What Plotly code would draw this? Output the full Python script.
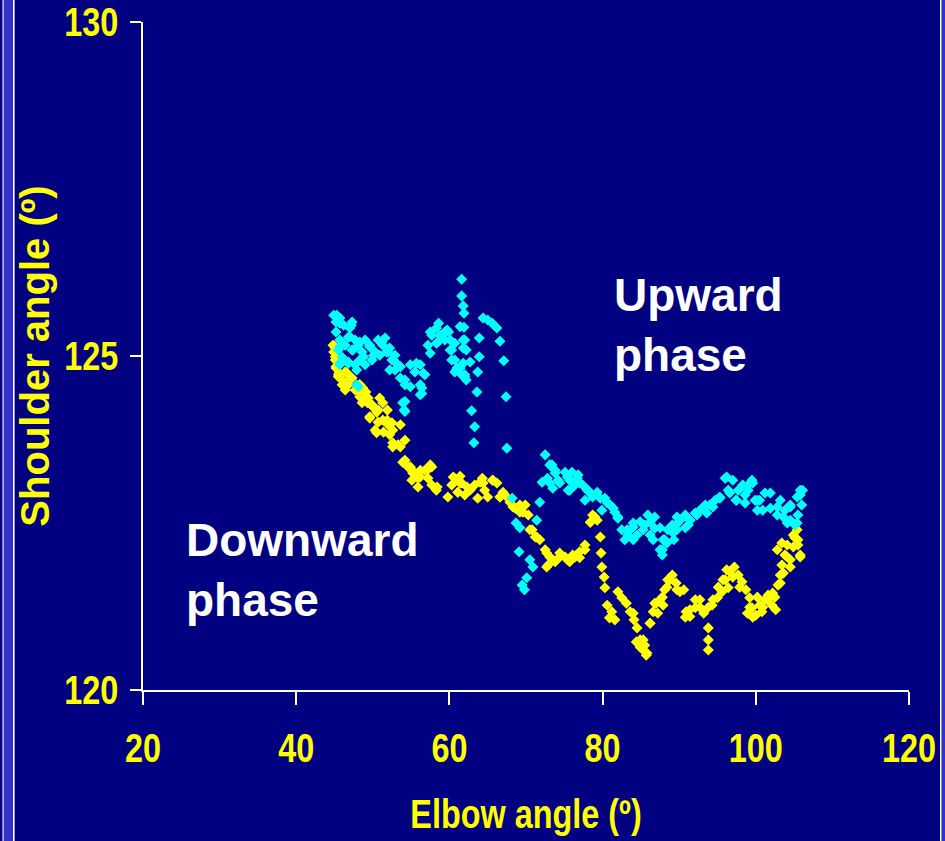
import plotly.graph_objects as go

# Downward phase (yellow): elbow angle (deg), shoulder angle (deg)
down_elbow = [44.8, 44.9, 45.1, 45.2, 45.5, 46.0, 46.4, 46.8, 47.3, 47.7, 48.3, 48.6, 49.1,
              45.0, 45.3, 45.6, 45.9, 46.3, 46.6, 47.0, 48.0, 48.5, 49.0, 49.3,
              49.9, 50.7, 51.3, 52.0, 51.4, 50.3, 49.6, 52.2, 50.9, 49.1,
              52.6, 53.6, 54.2, 54.2, 54.9, 55.5, 55.1, 56.2, 55.9,
              56.8, 57.2, 57.7, 57.5, 58.3, 60.3, 60.7, 61.4, 61.6, 61.1, 62.0, 59.8,
              62.7, 63.3, 64.0, 64.6, 65.0, 63.7, 65.6, 66.2, 67.0, 67.5, 66.6, 64.3,
              67.9, 68.6, 69.2, 69.9, 70.3, 70.5, 71.2, 71.8,
              72.5, 73.1, 73.8, 72.9, 74.4, 75.1, 75.7, 76.4, 77.0, 77.7,
              78.4, 78.7, 79.3, 79.7, 79.8, 79.9, 80.2, 80.3,
              80.6, 81.2, 80.9, 81.6, 82.0, 82.5, 83.1, 83.6, 84.1, 84.5, 84.4,
              84.9, 85.3, 85.7, 85.5, 86.2, 86.6, 87.0, 87.5, 87.9,
              88.1, 88.5, 89.1, 89.6, 90.1, 90.6, 90.9, 91.4, 92.1, 92.7, 93.2,
              93.8, 93.8, 93.8, 94.3, 95.0, 95.6,
              96.0, 96.6, 97.2, 97.7, 96.4, 98.2, 98.7,
              99.2, 99.5, 100.0, 100.5, 101.2, 100.8, 101.6, 102.1, 102.5,
              102.9, 103.2, 103.4, 102.6, 103.8, 104.1, 104.5,
              105.1, 105.5, 105.8, 105.4, 104.9,
              45.1, 45.1, 45.2, 45.5, 46.0, 46.4, 48.3, 48.7, 48.3, 48.6, 49.4, 50.0,
              49.6, 50.5, 51.3, 51.9, 50.7, 51.9, 52.5, 50.5, 52.6, 53.6, 53.3, 52.6,
              53.9, 54.6, 55.2, 56.2, 55.9, 57.1, 57.7, 58.4, 60.5, 61.4, 61.1, 62.3,
              64.4, 65.7, 66.6, 68.3, 69.2, 69.6, 70.8, 71.4, 72.7, 73.5, 72.7, 74.4,
              75.4, 76.1, 77.0, 77.7, 78.4, 79.0,
              102.8, 103.4, 104.1, 104.9, 105.5, 105.8, 104.5, 103.6, 103.2, 102.2,
              101.5, 100.9, 100.2, 99.2, 98.9, 99.6, 97.9, 97.0, 96.2, 95.7, 95.1,
              94.4, 93.8, 92.7, 92.1, 91.4, 90.8, 89.7, 88.8, 88.4, 87.8, 86.8, 87.2,
              86.2, 85.3, 84.9, 85.8, 84.0]
down_shoulder = [125.16, 125.06, 124.94, 124.82, 124.72, 124.64, 124.76, 124.57, 124.67, 124.49, 124.57, 124.42, 124.34,
                 125.15, 124.85, 124.75, 124.90, 124.60, 124.75, 124.65, 124.55, 124.45, 124.40, 124.30,
                 124.27, 124.19, 124.04, 123.97, 123.86, 123.89, 124.07, 123.82, 124.37, 124.46,
                 123.70, 123.64, 123.74, 123.44, 123.34, 123.25, 123.14, 123.29, 123.17,
                 123.29, 123.17, 123.07, 123.37, 122.99, 123.07, 123.17, 123.20, 123.10, 122.96, 122.92, 122.89,
                 122.99, 123.07, 123.11, 122.99, 122.89, 122.87, 123.14, 123.10, 122.96, 122.89, 122.89, 123.17,
                 122.81, 122.72, 122.66, 122.77, 122.62, 122.40, 122.29, 122.25,
                 122.10, 121.99, 121.92, 121.87, 122.05, 121.99, 121.92, 121.99, 122.07, 122.17,
                 122.51, 122.62, 122.54, 122.29, 122.05, 121.84, 121.69, 121.53,
                 121.27, 121.17, 121.08, 121.05, 121.47, 121.38, 121.30, 121.17, 121.05, 120.93, 120.72,
                 120.75, 120.60, 120.52, 120.67, 121.00, 121.17, 121.30, 121.35, 121.27,
                 121.50, 121.65, 121.72, 121.60, 121.47, 121.50, 121.17, 121.10, 121.23, 121.35, 121.15,
                 120.93, 120.75, 120.60, 121.27, 121.38, 121.47,
                 121.65, 121.77, 121.84, 121.72, 121.53, 121.62, 121.50,
                 121.38, 121.23, 121.12, 121.27, 121.35, 121.17, 121.42, 121.27, 121.39,
                 121.57, 121.72, 121.87, 121.20, 122.02, 122.17, 121.95,
                 122.28, 122.17, 122.02, 122.40, 122.32,
                 125.12, 124.99, 124.84, 124.69, 124.57, 124.49, 124.57, 124.52, 124.39, 124.30, 124.37, 124.24,
                 124.09, 124.16, 124.30, 124.19, 124.01, 124.04, 124.00, 123.85, 123.89, 123.97, 123.67, 123.64,
                 123.41, 123.34, 123.25, 123.19, 123.04, 123.29, 123.34, 123.04, 123.19, 123.10, 122.96, 123.04,
                 123.10, 123.14, 122.89, 122.74, 122.77, 122.66, 122.40, 122.29, 122.05, 121.95, 121.84, 121.99,
                 121.95, 122.02, 121.98, 122.10, 122.51, 122.59,
                 122.10, 122.20, 121.99, 122.14, 122.25, 121.99, 121.84, 121.75, 121.60, 121.45,
                 121.35, 121.24, 121.39, 121.24, 121.15, 121.09, 121.54, 121.69, 121.80, 121.65, 121.54,
                 121.35, 121.24, 121.24, 121.35, 121.20, 121.09, 121.50, 121.65, 121.54, 121.39, 121.30, 121.15,
                 121.00, 120.75, 120.64, 120.55, 121.15]

# Upward phase (cyan): elbow angle (deg), shoulder angle (deg)
up_elbow = [105.8, 106.0, 105.5, 105.1, 106.1, 104.5,
            103.8, 103.2, 102.8, 104.5,
            100.5, 101.2, 101.9, 100.2,
            99.0, 99.5, 98.6, 99.9,
            96.4, 97.0, 97.7, 98.3, 97.4, 96.0,
            94.0, 94.7, 95.3,
            91.4, 92.1, 92.7, 93.4,
            89.7, 90.1, 90.8, 89.3, 91.2,
            87.5, 88.1, 88.5, 89.1, 87.8,
            85.5, 86.2, 86.8, 85.9, 86.6,
            83.8, 84.5, 84.9, 82.5, 82.9, 83.3,
            80.3, 81.0, 81.6, 82.0, 79.9,
            77.4, 78.1, 78.6, 79.3, 77.7,
            75.1, 75.7, 76.4, 75.5, 76.8,
            72.5, 73.1, 73.8, 72.8, 72.1, 74.2, 73.5,
            71.8, 67.5, 68.2, 68.7, 69.2, 71.4, 69.1, 70.5, 70.9, 69.5, 70.1, 69.8,
            61.6, 61.6, 61.8, 61.9, 61.9, 62.0, 61.8, 60.7, 61.4, 62.0, 62.7, 60.7,
            63.9, 63.9, 63.7, 63.6, 62.9, 63.3, 63.2,
            64.4, 65.0, 65.6, 66.2, 66.6, 67.1, 67.4, 59.7, 59.4, 60.1,
            44.9, 45.2, 45.7, 46.2, 47.0, 47.3, 45.2, 45.7, 45.5, 46.0, 46.4, 46.8, 47.3,
            47.7, 48.1, 48.6, 48.3, 47.7, 46.8, 47.9, 45.7, 49.0, 49.6, 50.3, 50.7, 51.3,
            51.6, 50.9, 52.0, 52.5, 52.9, 53.3, 53.6, 54.2, 53.9, 54.1, 54.9, 55.5, 56.2,
            56.8, 56.4, 56.2, 57.2, 57.7, 58.3, 58.8, 59.4, 58.5, 60.1, 60.7, 60.3, 61.0,
            61.6, 62.2, 52.2, 52.9, 49.9, 49.0,
            45.3, 45.7, 47.2, 47.0, 48.3, 49.6, 51.2, 45.7, 47.4, 48.8, 50.1, 51.8,
            52.7, 53.6, 52.2, 54.2, 54.9, 54.2, 54.2, 55.7, 56.6, 56.2, 56.4, 57.5,
            58.6, 59.0, 59.9, 60.3, 57.5, 58.3, 60.9, 61.8, 62.0, 61.4, 61.8, 62.2,
            47.9, 48.1, 46.8, 45.7,
            73.4, 73.8, 73.1, 74.4, 75.4, 76.0, 76.7, 77.0, 75.7, 78.0, 78.7, 79.7,
            80.6, 81.4, 82.0, 83.2, 84.0, 84.0,
            84.0, 85.3, 86.2, 86.8, 87.5, 87.9, 87.8, 88.4, 89.2, 89.8, 89.7, 90.8,
            91.4, 92.3, 93.6, 94.4, 95.3, 96.2, 96.6, 97.5, 98.6, 99.0, 99.6, 100.2,
            100.9, 101.9, 102.8, 103.6, 104.5, 105.4, 105.8, 104.1, 105.4]
up_shoulder = [122.92, 122.77, 122.62, 122.47, 122.99, 122.54,
               122.69, 122.84, 122.62, 122.77,
               122.84, 122.95, 122.72, 122.69,
               123.07, 123.14, 122.92, 122.84,
               122.99, 123.14, 122.99, 123.07, 122.84, 123.17,
               122.77, 122.84, 122.89,
               122.54, 122.65, 122.69, 122.77,
               122.40, 122.54, 122.62, 122.25, 122.47,
               122.10, 122.25, 122.40, 122.47, 122.02,
               122.47, 122.32, 122.42, 122.62, 122.25,
               122.42, 122.32, 122.52, 122.40, 122.25, 122.32,
               122.87, 122.77, 122.66, 122.57, 122.69,
               123.07, 122.99, 122.92, 122.96, 122.84,
               123.26, 123.14, 123.07, 122.99, 123.22,
               123.52, 123.37, 123.29, 123.17, 123.11, 123.14, 123.02,
               122.81, 123.62, 122.87, 122.50, 122.43, 122.54, 122.07, 121.95, 121.84, 121.57, 121.68, 121.50,
               126.15, 125.90, 125.75, 125.64, 125.43, 125.24, 125.12, 124.94, 124.82, 124.72, 124.91, 124.76,
               125.27, 124.99, 124.76, 124.46, 124.18, 123.94, 123.70,
               125.57, 125.54, 125.49, 125.42, 125.22, 124.93, 124.39, 125.39, 125.24, 125.09,
               125.61, 125.51, 125.57, 125.46, 125.42, 125.51, 125.36, 125.24, 125.09, 124.98, 125.16, 125.28, 125.09,
               125.24, 125.16, 125.06, 124.94, 124.87, 124.91, 124.57, 124.87, 125.24, 125.16, 125.06, 125.24, 125.16,
               125.27, 125.01, 125.06, 124.94, 124.79, 124.87, 124.67, 124.57, 124.30, 124.19, 124.87, 124.76, 124.87,
               124.72, 124.52, 124.42, 125.16, 125.31, 125.42, 125.31, 125.36, 125.21, 125.24, 125.19, 124.94, 124.82,
               124.72, 124.64, 125.12, 125.01, 124.94, 124.87,
               125.61, 125.49, 125.46, 125.29, 125.21, 125.14, 125.21, 125.14, 125.09, 124.99, 125.01, 125.06,
               124.94, 124.84, 124.79, 124.64, 124.54, 124.32, 124.17, 124.89, 124.74, 124.57, 124.44, 125.36,
               125.49, 125.29, 125.36, 125.09, 125.04, 125.19, 124.79, 124.89, 124.69, 125.44, 125.24, 125.09,
               124.79, 124.54, 124.89, 124.89,
               123.37, 123.25, 123.10, 123.10, 123.19, 123.26, 123.17, 123.10, 122.99, 122.99, 122.89, 122.87,
               122.80, 122.72, 122.59, 122.40, 122.44, 122.25,
               122.50, 122.40, 122.51, 122.59, 122.43, 122.25, 122.10, 122.20, 122.35, 122.50, 122.59, 122.43,
               122.54, 122.62, 122.65, 122.74, 122.87, 123.19, 122.95, 122.84, 122.80, 122.99, 123.10, 122.84,
               122.69, 122.95, 122.74, 122.59, 122.74, 122.89, 122.99, 122.50, 122.50]

x_ticks = [20, 40, 60, 80, 100, 120]
y_ticks = [120, 125, 130]

NAVY = "#000080"
YELLOW = "#FFFF00"
CYAN = "#00FFFF"

fig = go.Figure()
fig.add_trace(go.Scatter(x=down_elbow, y=down_shoulder, mode="markers", name="Downward phase",
                         marker=dict(symbol="diamond", size=8.5, color=YELLOW, line=dict(width=0))))
fig.add_trace(go.Scatter(x=up_elbow, y=up_shoulder, mode="markers", name="Upward phase",
                         marker=dict(symbol="diamond", size=8.5, color=CYAN, line=dict(width=0))))

sans = "Liberation Sans, Arial, sans-serif"

fig.update_layout(
    width=945, height=841,
    paper_bgcolor=NAVY, plot_bgcolor=NAVY,
    showlegend=False,
    margin=dict(l=143, r=36, t=22, b=151, autoexpand=False),
    xaxis=dict(range=[20, 120], tickvals=x_ticks, ticktext=[str(v) for v in x_ticks],
               showgrid=False, zeroline=False, showline=True, linecolor="white", linewidth=1.5,
               ticks="outside", ticklen=13, tickcolor="white", tickwidth=1.5,
               ticklabelstandoff=9,
               tickfont=dict(family=sans, size=40, color=YELLOW, weight="bold"),
               title=dict(text="Elbow angle (º)", standoff=31,
                          font=dict(family=sans, size=40, color=YELLOW, weight="bold"))),
    yaxis=dict(range=[120, 130], tickvals=y_ticks, ticktext=[str(v) for v in y_ticks],
               showgrid=False, zeroline=False, showline=True, linecolor="white", linewidth=1.5,
               ticks="outside", ticklen=11, tickcolor="white", tickwidth=1.5,
               ticklabelstandoff=4,
               tickfont=dict(family=sans, size=40, color=YELLOW, weight="bold"),
               title=dict(text="Shoulder angle (º)", standoff=7,
                          font=dict(family=sans, size=40, color=YELLOW, weight="bold"))),
    annotations=[
        dict(x=81.2, y=126.33, xref="x", yref="y", xanchor="left", yanchor="top", align="left",
             text="Upward<br>phase", showarrow=False,
             font=dict(family=sans, size=46, color="white", weight="bold")),
        dict(x=25.3, y=122.66, xref="x", yref="y", xanchor="left", yanchor="top", align="left",
             text="Downward<br>phase", showarrow=False,
             font=dict(family=sans, size=46, color="white", weight="bold")),
    ],
)

# Slide frame decoration (white/blue bands at the edges)
def px_x(p):
    return (p - 143) / 766.0

y0p, y1p = -0.24, 1.05
frame = [
    (2.5, 3.8, "white"), (3.8, 13.0, "#3333CC"), (13.0, 14.6, "white"),
    (940.0, 941.7, "white"), (941.7, 946.0, "#3333CC"),
]
for a, b, c in frame:
    fig.add_shape(type="rect", xref="paper", yref="paper", x0=px_x(a), x1=px_x(b), y0=y0p, y1=y1p,
                  fillcolor=c, line=dict(width=0), layer="above")

post = """
document.body.style.margin = '0';
document.body.style.background = '#000080';
var gd = document.getElementById('{plot_id}');
var nodes = gd.querySelectorAll('.xtick text, .ytick text, .g-xtitle text');
nodes.forEach(function (t) {
  var w = t.getComputedTextLength();
  t.setAttribute('textLength', (w * 0.81).toFixed(1));
  t.setAttribute('lengthAdjust', 'spacingAndGlyphs');
});
var yt = gd.querySelector('.g-ytitle');
if (yt) { yt.setAttribute('transform', 'translate(17,0)'); }
"""

fig.write_html("out.html", post_script=post, config={"displayModeBar": False})
